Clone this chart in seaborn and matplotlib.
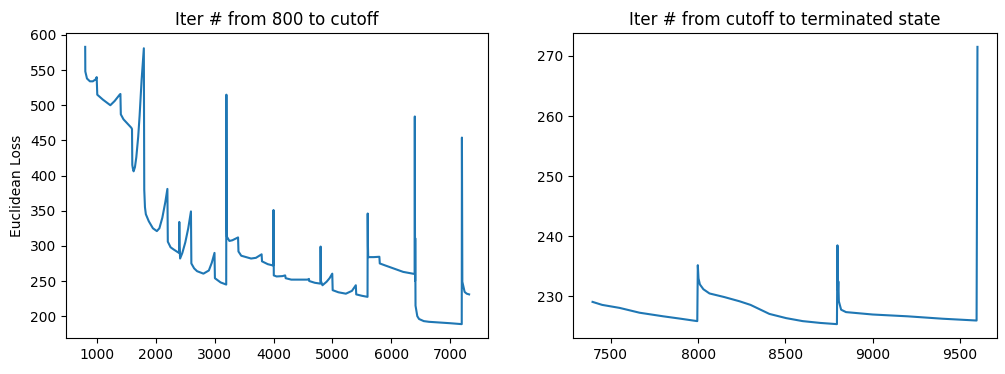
import matplotlib
matplotlib.use("Agg")
import matplotlib.pyplot as plt
import seaborn as sns
import pandas as pd

# Left panel: iterations 800 .. cutoff
left_iter = [800, 802, 830, 880, 930, 980, 995, 1005, 1100, 1227, 1300, 1385, 1398,
             1405, 1450, 1583, 1595, 1600, 1610, 1622, 1645, 1668, 1700, 1724, 1758, 1796,
             1803, 1815, 1830, 1880, 1950, 2017, 2060, 2110, 2160, 2196,
             2203, 2250, 2300, 2373, 2395, 2398, 2402, 2412, 2450, 2500, 2550, 2596,
             2603, 2650, 2700, 2808, 2900, 2950, 2996,
             3003, 3100, 3195, 3198, 3203, 3207, 3249, 3300, 3396,
             3403, 3450, 3617, 3700, 3796,
             3803, 3900, 3995, 3998, 4003, 4050, 4150, 4196, 4205, 4300, 4576, 4600, 4605,
             4700, 4795, 4798, 4803, 4830, 4900, 4950, 4996,
             5003, 5100, 5227, 5330, 5396, 5403, 5500, 5595, 5598, 5602, 5606, 5700, 5796,
             5803, 5900, 6017, 6200, 6395, 6398, 6402, 6405, 6410, 6440, 6470, 6550, 6639,
             7000, 7195, 7198, 7205, 7244, 7280, 7320]
left_loss = [583, 548, 538, 534, 534, 537, 540, 515, 508, 500, 506, 515, 516,
             487, 480, 468, 466, 415, 410, 406, 412, 426, 455, 485, 536, 581,
             380, 355, 345, 335, 325, 321, 325, 340, 362, 381,
             306, 298, 295, 291, 290, 334, 300, 282, 290, 305, 325, 349,
             275, 268, 264, 260.5, 265, 276, 290,
             254, 248, 245, 515, 340, 313, 307, 308, 312,
             292, 286, 282, 283, 288,
             278, 274, 272, 351, 258, 256.5, 257, 258, 254, 252, 252, 253, 250,
             247.5, 246.3, 299, 250, 244, 249, 254, 260.5,
             237, 234, 232, 236, 244, 231, 229, 227.5, 346, 300, 284, 284, 284.5,
             275, 272, 268.5, 263, 260, 484, 250, 311, 215, 200, 196, 193, 192,
             190, 188.7, 454, 249, 234.5, 232, 231]

# Right panel: cutoff .. terminated state
right_iter = [7395, 7450, 7550, 7664, 7800, 7900, 7995, 7998, 8002, 8010, 8030, 8065,
              8150, 8237, 8300, 8408, 8504, 8599, 8700, 8795, 8798, 8801, 8803, 8806,
              8819, 8847, 9000, 9200, 9400, 9595, 9600]
right_loss = [229.1, 228.6, 228.1, 227.3, 226.7, 226.3, 225.9, 235.2, 233.0, 232.0, 231.2, 230.5,
              229.9, 229.2, 228.6, 227.1, 226.4, 225.9, 225.6, 225.4, 238.5, 231.0, 232.5, 229.2,
              227.8, 227.4, 227.0, 226.7, 226.3, 226.0, 271.5]

titles = ["Iter # from 800 to cutoff", "Iter # from cutoff to terminated state"]

plt.rcParams['font.family'] = ['DejaVu Sans']
fig, axes = plt.subplots(1, 2, figsize=(10.05, 3.74), dpi=100)
axes[0].set_position([66 / 1005, 36 / 374, 422.3 / 1005, 305 / 374])
axes[1].set_position([573.3 / 1005, 36 / 374, 423.4 / 1005, 305 / 374])

df_l = pd.DataFrame({"iter": left_iter, "loss": left_loss})
df_r = pd.DataFrame({"iter": right_iter, "loss": right_loss})

for ax, df, t in zip(axes, [df_l, df_r], titles):
    sns.lineplot(data=df, x="iter", y="loss", ax=ax, estimator=None, sort=False,
                 color="#1f77b4", linewidth=1.5)
    ax.set_title(t, fontsize=12)
    ax.set_xlabel("")
    ax.set_ylabel("")

axes[0].set_ylabel("Euclidean Loss")

fig.savefig("out.png", dpi=100)
